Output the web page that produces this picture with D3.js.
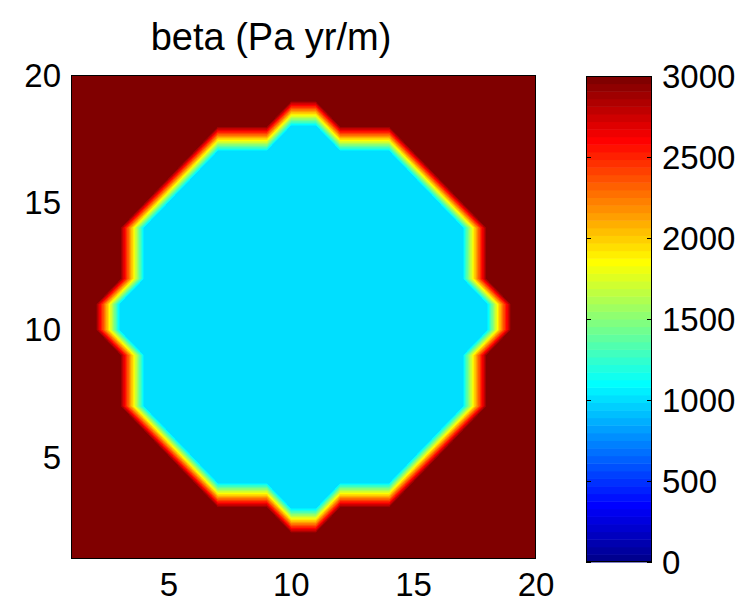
<!DOCTYPE html>
<html>
<head>
<meta charset="utf-8">
<script src="https://cdn.jsdelivr.net/npm/d3@7/dist/d3.min.js"></script>
<style>
  html, body { margin: 0; padding: 0; background: #fff; }
  svg { display: block; }
  text { font-family: "Liberation Sans", Arial, Helvetica, sans-serif; fill: #000; }
</style>
</head>
<body>
<svg id="chart" width="754" height="612"></svg>
<script>
// Grid node coordinates (km)
const xNodes = [1, 2, 3, 4, 5, 6, 7, 8, 9, 10, 11, 12, 13, 14, 15, 16, 17, 18, 19, 20];
const yNodes = [1, 2, 3, 4, 5, 6, 7, 8, 9, 10, 11, 12, 13, 14, 15, 16, 17, 18, 19, 20];

// Basal friction coefficient beta (Pa yr/m); one row per y node, bottom row first
const H = 3000, L = 1000;
const betaRows = [
  [H,H,H,H,H,H,H,H,H,H,H,H,H,H,H,H,H,H,H,H], // y = 1
  [H,H,H,H,H,H,H,H,H,H,H,H,H,H,H,H,H,H,H,H], // y = 2
  [H,H,H,H,H,H,H,H,H,L,L,H,H,H,H,H,H,H,H,H], // y = 3
  [H,H,H,H,H,H,L,L,L,L,L,L,L,L,H,H,H,H,H,H], // y = 4
  [H,H,H,H,H,L,L,L,L,L,L,L,L,L,L,H,H,H,H,H], // y = 5
  [H,H,H,H,L,L,L,L,L,L,L,L,L,L,L,L,H,H,H,H], // y = 6
  [H,H,H,L,L,L,L,L,L,L,L,L,L,L,L,L,L,H,H,H], // y = 7
  [H,H,H,L,L,L,L,L,L,L,L,L,L,L,L,L,L,H,H,H], // y = 8
  [H,H,H,L,L,L,L,L,L,L,L,L,L,L,L,L,L,H,H,H], // y = 9
  [H,H,L,L,L,L,L,L,L,L,L,L,L,L,L,L,L,L,H,H], // y = 10
  [H,H,L,L,L,L,L,L,L,L,L,L,L,L,L,L,L,L,H,H], // y = 11
  [H,H,H,L,L,L,L,L,L,L,L,L,L,L,L,L,L,H,H,H], // y = 12
  [H,H,H,L,L,L,L,L,L,L,L,L,L,L,L,L,L,H,H,H], // y = 13
  [H,H,H,L,L,L,L,L,L,L,L,L,L,L,L,L,L,H,H,H], // y = 14
  [H,H,H,H,L,L,L,L,L,L,L,L,L,L,L,L,H,H,H,H], // y = 15
  [H,H,H,H,H,L,L,L,L,L,L,L,L,L,L,H,H,H,H,H], // y = 16
  [H,H,H,H,H,H,L,L,L,L,L,L,L,L,H,H,H,H,H,H], // y = 17
  [H,H,H,H,H,H,H,H,H,L,L,H,H,H,H,H,H,H,H,H], // y = 18
  [H,H,H,H,H,H,H,H,H,H,H,H,H,H,H,H,H,H,H,H], // y = 19
  [H,H,H,H,H,H,H,H,H,H,H,H,H,H,H,H,H,H,H,H]  // y = 20
];

const xTicks = [5, 10, 15, 20];
const yTicks = [5, 10, 15, 20];
const colorLimits = [0, 3000];
const colorbarTicks = [0, 500, 1000, 1500, 2000, 2500, 3000];
const titleText = "beta (Pa yr/m)";

// MATLAB-style jet colormap with m entries
function jetColormap(m) {
  const n = Math.ceil(m / 4);
  const u = [];
  for (let i = 1; i <= n; i++) u.push(i / n);
  for (let i = 0; i < n - 1; i++) u.push(1);
  for (let i = n; i >= 1; i--) u.push(i / n);
  const J = Array.from({length: m}, () => [0, 0, 0]);
  const off = Math.ceil(n / 2) - (m % 4 === 1 ? 1 : 0);
  u.forEach((val, k) => {
    const g = off + k + 1, r = g + n, b = g - n;
    if (r >= 1 && r <= m) J[r - 1][0] = val;
    if (g >= 1 && g <= m) J[g - 1][1] = val;
    if (b >= 1 && b <= m) J[b - 1][2] = val;
  });
  return J.map(c => d3.rgb(Math.round(c[0] * 255), Math.round(c[1] * 255), Math.round(c[2] * 255)));
}
const jet = jetColormap(64);
const color = d3.scaleQuantize().domain(colorLimits).range(jet);

const svg = d3.select("#chart");
const plot = {left: 71, top: 75, right: 536, bottom: 559};
const x = d3.scaleLinear().domain([xNodes[0], xNodes[xNodes.length - 1]]).range([plot.left, plot.right]);
const y = d3.scaleLinear().domain([yNodes[0], yNodes[yNodes.length - 1]]).range([plot.bottom, plot.top]);

// Interpolated shading: each grid cell is split into two triangles along
// the diagonal joining the more similar corners, values vary linearly inside.
function sample(xv, yv) {
  const nx = xNodes.length, ny = yNodes.length;
  let i = d3.bisectRight(xNodes, xv) - 1; i = Math.max(0, Math.min(nx - 2, i));
  let j = d3.bisectRight(yNodes, yv) - 1; j = Math.max(0, Math.min(ny - 2, j));
  const u = (xv - xNodes[i]) / (xNodes[i + 1] - xNodes[i]);
  const v = (yv - yNodes[j]) / (yNodes[j + 1] - yNodes[j]);
  const v00 = betaRows[j][i], v10 = betaRows[j][i + 1];
  const v01 = betaRows[j + 1][i], v11 = betaRows[j + 1][i + 1];
  if (Math.abs(v00 - v11) <= Math.abs(v10 - v01)) {
    if (u >= v) return v00 + u * (v10 - v00) + v * (v11 - v10);
    return v00 + v * (v01 - v00) + u * (v11 - v01);
  } else {
    if (u + v <= 1) return v00 + u * (v10 - v00) + v * (v01 - v00);
    return v11 + (1 - u) * (v01 - v11) + (1 - v) * (v10 - v11);
  }
}

const W = plot.right - plot.left, Hh = plot.bottom - plot.top;
const canvas = document.createElement("canvas");
canvas.width = W; canvas.height = Hh;
const ctx = canvas.getContext("2d");
const img = ctx.createImageData(W, Hh);
for (let py = 0; py < Hh; py++) {
  const yv = y.invert(plot.top + py + 0.5);
  for (let px = 0; px < W; px++) {
    const xv = x.invert(plot.left + px + 0.5);
    const c = color(sample(xv, yv));
    const k = (py * W + px) * 4;
    img.data[k] = c.r; img.data[k + 1] = c.g; img.data[k + 2] = c.b; img.data[k + 3] = 255;
  }
}
ctx.putImageData(img, 0, 0);

svg.append("image")
  .attr("x", plot.left).attr("y", plot.top)
  .attr("width", W).attr("height", Hh)
  .attr("preserveAspectRatio", "none")
  .attr("href", canvas.toDataURL("image/png"));

// Axes box (the surface covers the tick marks)
svg.append("rect")
  .attr("x", plot.left + 0.5).attr("y", plot.top + 0.5)
  .attr("width", W - 1).attr("height", Hh - 1)
  .attr("fill", "none").attr("stroke", "#000").attr("stroke-width", 1);

const fontSize = 33;
svg.append("g").selectAll("text").data(xTicks).join("text")
  .attr("x", d => x(d)).attr("y", 596)
  .attr("text-anchor", "middle").attr("font-size", fontSize)
  .text(d => d);
svg.append("g").selectAll("text").data(yTicks).join("text")
  .attr("x", 61).attr("y", d => y(d))
  .attr("dy", "0.35em")
  .attr("text-anchor", "end").attr("font-size", fontSize)
  .text(d => d);

svg.append("text")
  .attr("x", 271).attr("y", 50)
  .attr("text-anchor", "middle").attr("font-size", 38)
  .text(titleText);

// Colorbar
const tickLen = 5;
const cb = {left: 586, right: 652, top: 76, bottom: 562};
const cy = d3.scaleLinear().domain(colorLimits).range([cb.bottom, cb.top]);
const levels = d3.range(jet.length);
const step = (colorLimits[1] - colorLimits[0]) / jet.length;
svg.append("g").selectAll("rect").data(levels).join("rect")
  .attr("x", cb.left).attr("width", cb.right - cb.left)
  .attr("y", k => cy(colorLimits[0] + (k + 1) * step))
  .attr("height", k => cy(colorLimits[0] + k * step) - cy(colorLimits[0] + (k + 1) * step) + 0.5)
  .attr("fill", k => jet[k]);
const cbAxis = svg.append("g").attr("stroke", "#000").attr("stroke-width", 1);
colorbarTicks.forEach(t => {
  const py = Math.round(cy(t)) + 0.5;
  cbAxis.append("line").attr("x1", cb.left).attr("x2", cb.left + tickLen).attr("y1", py).attr("y2", py);
  cbAxis.append("line").attr("x1", cb.right).attr("x2", cb.right - tickLen).attr("y1", py).attr("y2", py);
});
svg.append("rect")
  .attr("x", cb.left + 0.5).attr("y", cb.top + 0.5)
  .attr("width", cb.right - cb.left - 1).attr("height", cb.bottom - cb.top - 1)
  .attr("fill", "none").attr("stroke", "#000").attr("stroke-width", 1);
svg.append("g").selectAll("text").data(colorbarTicks).join("text")
  .attr("x", 662).attr("y", d => cy(d))
  .attr("dy", "0.35em")
  .attr("font-size", fontSize)
  .text(d => d);
</script>
</body>
</html>
